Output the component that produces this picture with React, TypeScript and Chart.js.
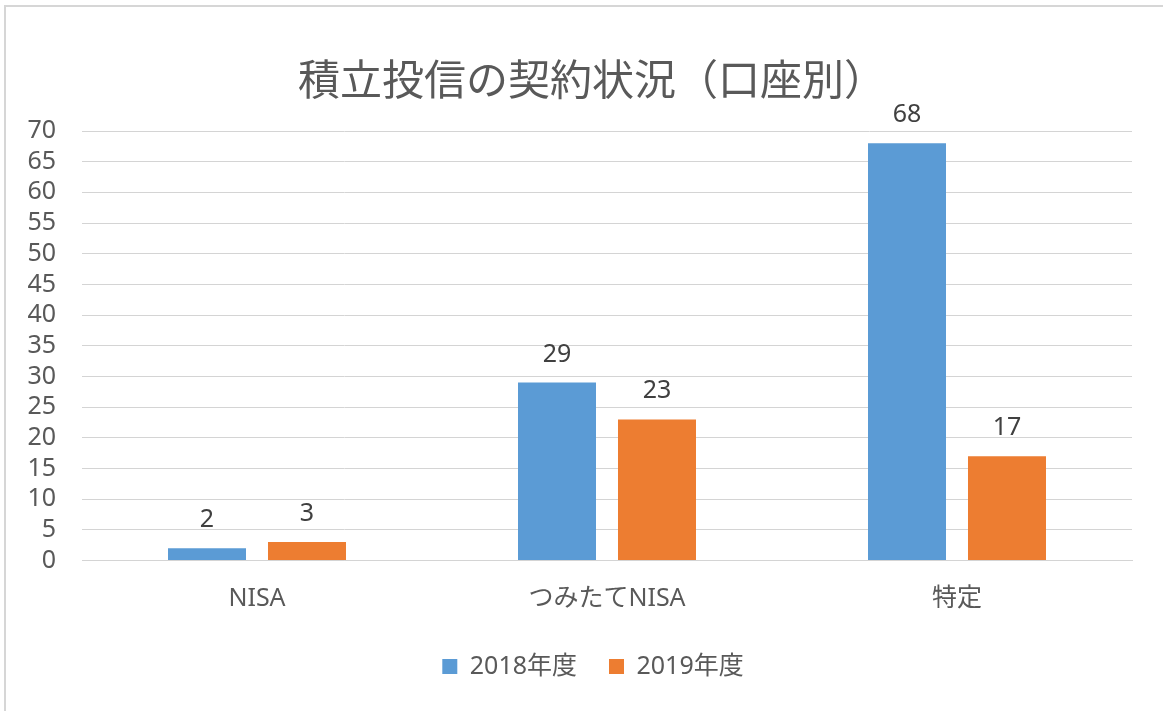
import React, { useEffect, useRef } from "react";
import { Chart, registerables } from "chart.js";

Chart.register(...registerables);

const TITLE = "積立投信の契約状況（口座別）";
const categories = ["NISA", "つみたてNISA", "特定"];
const seriesNames = ["2018年度", "2019年度"];
const values2018 = [2, 29, 68];
const values2019 = [3, 23, 17];
const seriesColors = ["#5B9BD5", "#ED7D31"];
const yMin = 0;
const yMax = 70;
const yStep = 5;

const FONT = "'Noto Sans', 'Noto Sans CJK JP', sans-serif";
const CJK = "'Noto Sans CJK JP', 'Noto Sans', sans-serif";

const TITLE_CENTER_X = 592;
const LEGEND_CENTER_X = 593;

const valueLabels = {
  id: "valueLabels",
  afterDatasetsDraw(chart: any) {
    const ctx = chart.ctx;
    ctx.save();
    ctx.font = `25px ${FONT}`;
    ctx.fillStyle = "#404040";
    ctx.textAlign = "center";
    ctx.textBaseline = "alphabetic";
    chart.data.datasets.forEach((ds: any, di: number) => {
      const meta = chart.getDatasetMeta(di);
      meta.data.forEach((el: any, i: number) => {
        ctx.fillText(String(ds.data[i]), el.x, el.y - 21);
      });
    });
    ctx.restore();
  },
};

// Re-centre title and legend boxes horizontally after layout
const recenter = {
  id: "recenter",
  afterLayout(chart: any) {
    const shift = (box: any, cx: number) => {
      if (!box) return;
      const d = cx - (box.left + box.right) / 2;
      box.left += d;
      box.right += d;
    };
    shift(chart.titleBlock, TITLE_CENTER_X);
    shift(chart.legend, LEGEND_CENTER_X);
  },
};

export default function App() {
  const ref = useRef<HTMLCanvasElement | null>(null);
  useEffect(() => {
    if (!ref.current) return;
    const chart = new Chart(ref.current, {
      type: "bar",
      data: {
        labels: categories,
        datasets: [
          {
            label: seriesNames[0],
            data: values2018,
            backgroundColor: seriesColors[0],
            categoryPercentage: 0.5714,
            barPercentage: 0.78,
          },
          {
            label: seriesNames[1],
            data: values2019,
            backgroundColor: seriesColors[1],
            categoryPercentage: 0.5714,
            barPercentage: 0.78,
          },
        ],
      },
      options: {
        animation: false,
        responsive: false,
        maintainAspectRatio: false,
        layout: { padding: { left: 20, right: 31, top: 0, bottom: 22 } },
        plugins: {
          tooltip: { enabled: false },
          title: {
            display: true,
            text: TITLE,
            color: "#595959",
            font: { family: CJK, size: 42, weight: "normal", lineHeight: 1.2 },
            padding: { top: 54, bottom: 26.6 },
          },
          legend: {
            display: true,
            position: "bottom",
            labels: {
              color: "#595959",
              font: { family: FONT, size: 25 },
              boxWidth: 15,
              boxHeight: 15,
              padding: 32,
            },
          },
        },
        scales: {
          x: {
            grid: { display: false, drawTicks: false },
            border: { display: true, color: "#d4d4d4", width: 1 },
            ticks: {
              color: "#595959",
              font: { family: FONT, size: 25 },
              padding: 23,
            },
            afterFit(scale: any) {
              scale.height = 61.5;
            },
          },
          y: {
            min: yMin,
            max: yMax,
            grid: { color: "#d4d4d4", lineWidth: 1, drawTicks: false },
            border: { display: false },
            ticks: {
              stepSize: yStep,
              autoSkip: false,
              color: "#595959",
              font: { family: FONT, size: 25 },
              padding: 26,
            },
            afterFit(scale: any) {
              scale.width = 62;
            },
          },
        },
      },
      plugins: [valueLabels, recenter],
    });
    return () => chart.destroy();
  }, []);

  return (
    <div style={{ position: "absolute", left: 0, top: 0, width: 1163, height: 711, background: "#fff" }}>
      <canvas ref={ref} width={1163} height={711} style={{ position: "absolute", left: 0, top: 0 }} />
      <div
        style={{
          position: "absolute",
          left: 4,
          top: 5,
          width: 1163,
          height: 711,
          borderTop: "2px solid #d6d6d6",
          borderLeft: "2px solid #d6d6d6",
          pointerEvents: "none",
        }}
      />
    </div>
  );
}
